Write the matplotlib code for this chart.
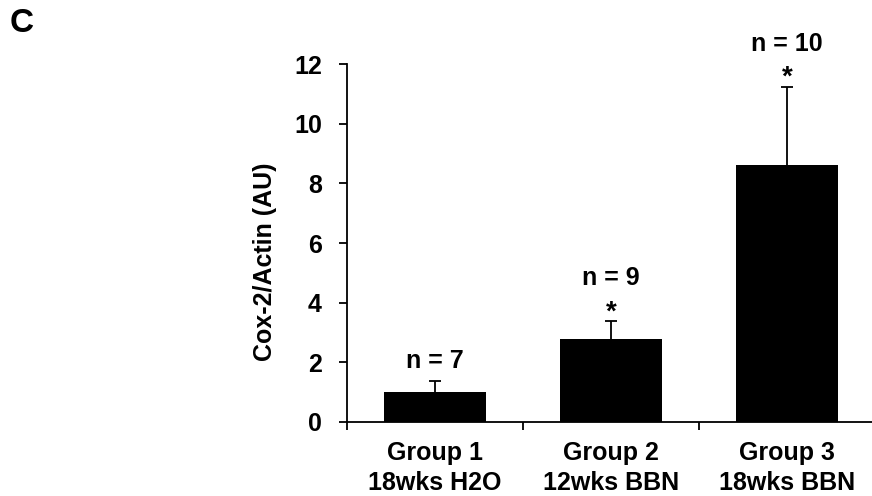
import numpy as np
import matplotlib.pyplot as plt

plt.rcParams['font.family'] = ['Liberation Sans', 'DejaVu Sans']
plt.rcParams['font.weight'] = 'bold'

groups = ['Group 1\n18wks H2O', 'Group 2\n12wks BBN', 'Group 3\n18wks BBN']
means = [1.0, 2.78, 8.62]
errs = [0.37, 0.6, 2.63]
n_labels = ['n = 7', 'n = 9', 'n = 10']
signif = [False, True, True]

fig = plt.figure(figsize=(8.72, 4.96), dpi=100)
ax = fig.add_axes([347 / 872, 74.3 / 496, 528 / 872, 357.4 / 496])

x = np.arange(len(groups))
# excel style: symmetric bars, lower half hidden behind the bar
ax.errorbar(x, means, yerr=errs, fmt='none', ecolor='black',
            elinewidth=1.3, capsize=4, capthick=1.3, zorder=1)
ax.bar(x, means, 0.58, color='black', zorder=2)

for i in range(len(groups)):
    top = means[i] + errs[i]
    off = 6
    if signif[i]:
        ax.annotate('*', (x[i], top), xytext=(0, -3), textcoords='offset points',
                    ha='center', va='bottom', fontsize=20, fontweight='bold',
                    annotation_clip=False)
        off = 22
    ax.annotate(n_labels[i], (x[i], top), xytext=(0, off), textcoords='offset points',
                ha='center', va='bottom', fontsize=18, fontweight='bold',
                annotation_clip=False)

ax.set_xlim(-0.5, 2.5)
ax.set_ylim(0, 12)
ax.set_yticks([0, 2, 4, 6, 8, 10, 12])
ax.set_xticks(x)
ax.set_xticklabels(groups, fontsize=18, fontweight='bold', linespacing=1.33)
ax.set_xticks([-0.5, 0.5, 1.5], minor=True)
ax.tick_params(axis='x', which='major', length=0, pad=14)
ax.tick_params(axis='x', which='minor', length=6, width=1.3, direction='out')
ax.tick_params(axis='y', labelsize=18, length=6, width=1.3, direction='out', pad=12)
for lab in ax.get_yticklabels():
    lab.set_fontweight('bold')

ax.spines['top'].set_visible(False)
ax.spines['right'].set_visible(False)
ax.spines['left'].set_linewidth(1.3)
ax.spines['bottom'].set_linewidth(1.3)

ax.set_ylabel('Cox-2/Actin (AU)', fontsize=18, fontweight='bold')
ax.yaxis.set_label_coords(-0.133, 0.448)

fig.text(10 / 872, 1 - 24 / 496, 'C', fontsize=24, fontweight='bold', va='center')

fig.savefig('out.png', dpi=100)
